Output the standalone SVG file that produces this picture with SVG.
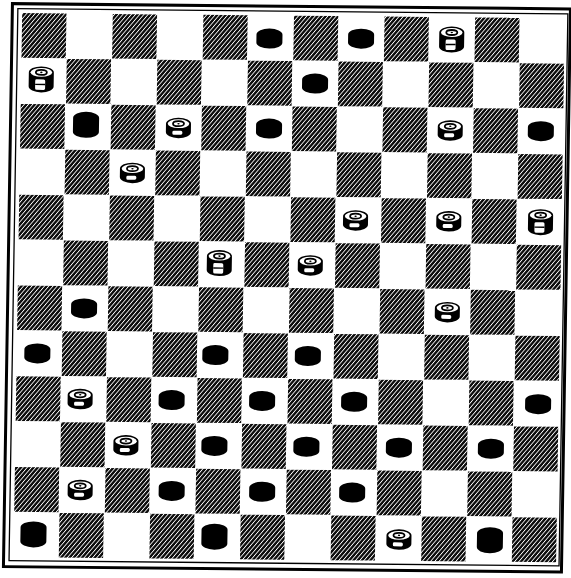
<svg xmlns="http://www.w3.org/2000/svg" xmlns:xlink="http://www.w3.org/1999/xlink" width="571" height="578" viewBox="0 0 571 578">
<style>
.d{fill:url(#h)}
.frame{fill:none;stroke:#000}
</style>
<defs>
<pattern id="h" patternUnits="userSpaceOnUse" width="3.2" height="3.2" patternTransform="rotate(-50)">
<rect width="3.2" height="3.2" fill="#0a0a0a"/>
<rect y="0" width="3.2" height="0.85" fill="#fff"/>
</pattern>
<g id="bn"><path d="M-13,-4 A13,6 0 0 1 13,-4 V4 A13,6 0 0 1 -13,4 Z" fill="#000"/></g>
<g id="bk"><path d="M-13,-7 A13,6 0 0 1 13,-7 V7 A13,6 0 0 1 -13,7 Z" fill="#000"/></g>
<g id="wn">
<path d="M-12.5,-4 A12.5,6 0 0 1 12.5,-4 V4.5 A12.5,6 0 0 1 -12.5,4.5 Z" fill="#000"/>
<ellipse cx="0" cy="-4" rx="10.8" ry="4.4" fill="#fff"/>
<ellipse cx="0" cy="-4" rx="5.5" ry="2.5" fill="#fff" stroke="#000" stroke-width="1.8"/>
<ellipse cx="0" cy="-4" rx="1.2" ry="0.8" fill="#000"/>
<rect x="-6" y="3" width="10" height="4" rx="1.5" fill="#fff"/>
</g>
<g id="wk">
<path d="M-12.5,-7 A12.5,6 0 0 1 12.5,-7 V7 A12.5,6 0 0 1 -12.5,7 Z" fill="#000"/>
<ellipse cx="0" cy="-7" rx="10.8" ry="4.4" fill="#fff"/>
<ellipse cx="0" cy="-7" rx="5.5" ry="2.5" fill="#fff" stroke="#000" stroke-width="1.8"/>
<ellipse cx="0" cy="-7" rx="1.2" ry="0.8" fill="#000"/>
<rect x="-6" y="0" width="10" height="10.5" rx="1.5" fill="#fff"/>
<line x1="-6" y1="5" x2="4" y2="5" stroke="#000" stroke-width="1.4"/>
</g>
</defs>
<rect width="571" height="578" fill="#fff"/>
<g id="board" transform="matrix(1,0.0095,-0.016,1,0,0)">
<g id="frame">
<rect class="frame" x="12.5" y="3.5" width="558" height="563" stroke-width="3"/>
<rect class="frame" x="18" y="8.5" width="550" height="552" stroke-width="1.3"/>
</g>
<g id="squares">
<rect class="d" x="22.4" y="12.9" width="44.3" height="44.6"/><rect class="d" x="113.0" y="12.9" width="44.3" height="44.6"/><rect class="d" x="203.6" y="12.9" width="44.3" height="44.6"/><rect class="d" x="294.2" y="12.9" width="44.3" height="44.6"/><rect class="d" x="384.8" y="12.9" width="44.3" height="44.6"/><rect class="d" x="475.4" y="12.9" width="44.3" height="44.6"/>
<rect class="d" x="67.7" y="58.3" width="44.3" height="44.6"/><rect class="d" x="158.3" y="58.3" width="44.3" height="44.6"/><rect class="d" x="248.9" y="58.3" width="44.3" height="44.6"/><rect class="d" x="339.5" y="58.3" width="44.3" height="44.6"/><rect class="d" x="430.1" y="58.3" width="44.3" height="44.6"/><rect class="d" x="520.7" y="58.3" width="44.3" height="44.6"/>
<rect class="d" x="22.4" y="103.7" width="44.3" height="44.6"/><rect class="d" x="113.0" y="103.7" width="44.3" height="44.6"/><rect class="d" x="203.6" y="103.7" width="44.3" height="44.6"/><rect class="d" x="294.2" y="103.7" width="44.3" height="44.6"/><rect class="d" x="384.8" y="103.7" width="44.3" height="44.6"/><rect class="d" x="475.4" y="103.7" width="44.3" height="44.6"/>
<rect class="d" x="67.7" y="149.1" width="44.3" height="44.6"/><rect class="d" x="158.3" y="149.1" width="44.3" height="44.6"/><rect class="d" x="248.9" y="149.1" width="44.3" height="44.6"/><rect class="d" x="339.5" y="149.1" width="44.3" height="44.6"/><rect class="d" x="430.1" y="149.1" width="44.3" height="44.6"/><rect class="d" x="520.7" y="149.1" width="44.3" height="44.6"/>
<rect class="d" x="22.4" y="194.5" width="44.3" height="44.6"/><rect class="d" x="113.0" y="194.5" width="44.3" height="44.6"/><rect class="d" x="203.6" y="194.5" width="44.3" height="44.6"/><rect class="d" x="294.2" y="194.5" width="44.3" height="44.6"/><rect class="d" x="384.8" y="194.5" width="44.3" height="44.6"/><rect class="d" x="475.4" y="194.5" width="44.3" height="44.6"/>
<rect class="d" x="67.7" y="239.9" width="44.3" height="44.6"/><rect class="d" x="158.3" y="239.9" width="44.3" height="44.6"/><rect class="d" x="248.9" y="239.9" width="44.3" height="44.6"/><rect class="d" x="339.5" y="239.9" width="44.3" height="44.6"/><rect class="d" x="430.1" y="239.9" width="44.3" height="44.6"/><rect class="d" x="520.7" y="239.9" width="44.3" height="44.6"/>
<rect class="d" x="22.4" y="285.3" width="44.3" height="44.6"/><rect class="d" x="113.0" y="285.3" width="44.3" height="44.6"/><rect class="d" x="203.6" y="285.3" width="44.3" height="44.6"/><rect class="d" x="294.2" y="285.3" width="44.3" height="44.6"/><rect class="d" x="384.8" y="285.3" width="44.3" height="44.6"/><rect class="d" x="475.4" y="285.3" width="44.3" height="44.6"/>
<rect class="d" x="67.7" y="330.7" width="44.3" height="44.6"/><rect class="d" x="158.3" y="330.7" width="44.3" height="44.6"/><rect class="d" x="248.9" y="330.7" width="44.3" height="44.6"/><rect class="d" x="339.5" y="330.7" width="44.3" height="44.6"/><rect class="d" x="430.1" y="330.7" width="44.3" height="44.6"/><rect class="d" x="520.7" y="330.7" width="44.3" height="44.6"/>
<rect class="d" x="22.4" y="376.1" width="44.3" height="44.6"/><rect class="d" x="113.0" y="376.1" width="44.3" height="44.6"/><rect class="d" x="203.6" y="376.1" width="44.3" height="44.6"/><rect class="d" x="294.2" y="376.1" width="44.3" height="44.6"/><rect class="d" x="384.8" y="376.1" width="44.3" height="44.6"/><rect class="d" x="475.4" y="376.1" width="44.3" height="44.6"/>
<rect class="d" x="67.7" y="421.5" width="44.3" height="44.6"/><rect class="d" x="158.3" y="421.5" width="44.3" height="44.6"/><rect class="d" x="248.9" y="421.5" width="44.3" height="44.6"/><rect class="d" x="339.5" y="421.5" width="44.3" height="44.6"/><rect class="d" x="430.1" y="421.5" width="44.3" height="44.6"/><rect class="d" x="520.7" y="421.5" width="44.3" height="44.6"/>
<rect class="d" x="22.4" y="466.9" width="44.3" height="44.6"/><rect class="d" x="113.0" y="466.9" width="44.3" height="44.6"/><rect class="d" x="203.6" y="466.9" width="44.3" height="44.6"/><rect class="d" x="294.2" y="466.9" width="44.3" height="44.6"/><rect class="d" x="384.8" y="466.9" width="44.3" height="44.6"/><rect class="d" x="475.4" y="466.9" width="44.3" height="44.6"/>
<rect class="d" x="67.7" y="512.3" width="44.3" height="44.6"/><rect class="d" x="158.3" y="512.3" width="44.3" height="44.6"/><rect class="d" x="248.9" y="512.3" width="44.3" height="44.6"/><rect class="d" x="339.5" y="512.3" width="44.3" height="44.6"/><rect class="d" x="430.1" y="512.3" width="44.3" height="44.6"/><rect class="d" x="520.7" y="512.3" width="44.3" height="44.6"/>
</g>
<g id="pieces">
<g id="p-0-5"><use xlink:href="#bn" x="270" y="36"/></g>
<g id="p-0-7"><use xlink:href="#bn" x="361.65" y="35.2"/></g>
<g id="p-0-9"><use xlink:href="#wk" x="452.25" y="35.2"/></g>
<g id="p-1-0"><use xlink:href="#wk" x="42.5" y="79"/></g>
<g id="p-1-6"><use xlink:href="#bn" x="316.35" y="80.6"/></g>
<g id="p-2-1"><use xlink:href="#bk" x="88" y="124"/></g>
<g id="p-2-3"><use xlink:href="#wn" x="180.45" y="126"/></g>
<g id="p-2-5"><use xlink:href="#bn" x="271.05" y="126"/></g>
<g id="p-2-9"><use xlink:href="#wn" x="452.25" y="126"/></g>
<g id="p-2-11"><use xlink:href="#bn" x="542.85" y="126"/></g>
<g id="p-3-2"><use xlink:href="#wn" x="135.15" y="171.4"/></g>
<g id="p-4-7"><use xlink:href="#wn" x="359" y="216.8"/></g>
<g id="p-4-9"><use xlink:href="#wn" x="452.25" y="216.8"/></g>
<g id="p-4-11"><use xlink:href="#wk" x="544" y="217"/></g>
<g id="p-5-4"><use xlink:href="#wk" x="223.5" y="261"/></g>
<g id="p-5-6"><use xlink:href="#wn" x="314.5" y="262.2"/></g>
<g id="p-6-1"><use xlink:href="#bn" x="89" y="307.6"/></g>
<g id="p-6-9"><use xlink:href="#wn" x="452.25" y="307.6"/></g>
<g id="p-7-0"><use xlink:href="#bn" x="43" y="353"/></g>
<g id="p-7-4"><use xlink:href="#bn" x="221" y="353"/></g>
<g id="p-7-6"><use xlink:href="#bn" x="313.5" y="353"/></g>
<g id="p-8-1"><use xlink:href="#wn" x="86.5" y="398"/></g>
<g id="p-8-3"><use xlink:href="#bn" x="178" y="398.4"/></g>
<g id="p-8-5"><use xlink:href="#bn" x="268.5" y="398.4"/></g>
<g id="p-8-7"><use xlink:href="#bn" x="360.5" y="398.4"/></g>
<g id="p-8-11"><use xlink:href="#bn" x="544.5" y="399"/></g>
<g id="p-9-2"><use xlink:href="#wn" x="133" y="443.8"/></g>
<g id="p-9-4"><use xlink:href="#bn" x="221.5" y="443.8"/></g>
<g id="p-9-6"><use xlink:href="#bn" x="313.5" y="443.8"/></g>
<g id="p-9-8"><use xlink:href="#bn" x="406" y="443.8"/></g>
<g id="p-9-10"><use xlink:href="#bn" x="498" y="444"/></g>
<g id="p-10-1"><use xlink:href="#wn" x="88" y="489"/></g>
<g id="p-10-3"><use xlink:href="#bn" x="179.5" y="489.2"/></g>
<g id="p-10-5"><use xlink:href="#bn" x="270" y="489.2"/></g>
<g id="p-10-7"><use xlink:href="#bn" x="360" y="489.2"/></g>
<g id="p-11-0"><use xlink:href="#bk" x="42" y="534"/></g>
<g id="p-11-4"><use xlink:href="#bk" x="223" y="534.6"/></g>
<g id="p-11-8"><use xlink:href="#wn" x="407.5" y="535.5"/></g>
<g id="p-11-10"><use xlink:href="#bk" x="498.5" y="535.5"/></g>
</g>
</g>
</svg>
